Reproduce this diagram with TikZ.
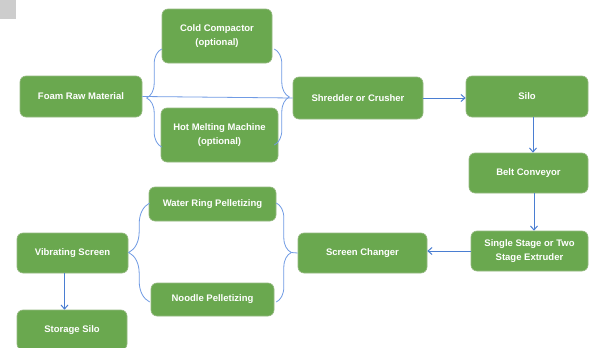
\documentclass[tikz,border=0pt]{standalone}
\usepackage{fontspec}
\setmainfont{Liberation Sans}
\usetikzlibrary{arrows.meta,positioning,calc,decorations.pathreplacing}
\definecolor{boxgreen}{RGB}{106,168,79}
\definecolor{boxedge}{RGB}{150,185,130}
\definecolor{flowblue}{RGB}{74,126,210}
\definecolor{bracecol}{RGB}{112,155,228}
\definecolor{cornergray}{RGB}{205,205,205}

\begin{document}
\begin{tikzpicture}[x=1pt, y=-1pt,
    procbox/.style={draw=boxedge, line width=0.6pt, fill=boxgreen, rounded corners=6pt,
      text=white, font=\bfseries\fontsize{9.5}{14}\selectfont, align=center, inner sep=2pt},
    flow/.style={flowblue, line width=1pt, -{Straight Barb[length=4pt,width=7pt]}},
    curly/.style={bracecol, line width=0.8pt, decorate, decoration={brace, amplitude=#1}}]
    % canvas, same size as the screenshot
    \useasboundingbox (0,0) rectangle (590,348);
    \fill[white] (0,0) rectangle (590,348);
    \fill[cornergray] (0,0) rectangle (16,19);
    % first row: raw material, optional pre-treatment, shredder, silo
    \node[procbox, minimum width=122pt, minimum height=41pt] (foam) at (81,96.5) {Foam Raw Material};
    \node[procbox, minimum width=110pt, minimum height=54pt] (cold) at (217,36) {Cold Compactor\\(optional)};
    \node[procbox, minimum width=117pt, minimum height=54pt] (hot) at (219.5,135) {Hot Melting Machine\\(optional)};
    \node[procbox, minimum width=130pt, minimum height=42pt] (shred) at (358,98) {Shredder or Crusher};
    \node[procbox, minimum width=122pt, minimum height=41pt] (silo) at (527,96.5) {Silo};
    % right column
    \node[procbox, minimum width=119pt, minimum height=40pt] (belt) at (528.5,173) {Belt Conveyor};
    \node[procbox, minimum width=117pt, minimum height=40pt] (extr) at (529.5,251) {Single Stage or Two\\Stage Extruder};
    % bottom row, running back to the left
    \node[procbox, minimum width=129pt, minimum height=40pt] (chg) at (362.5,253) {Screen Changer};
    \node[procbox, minimum width=127pt, minimum height=34pt] (water) at (212.5,204) {Water Ring Pelletizing};
    \node[procbox, minimum width=123pt, minimum height=33pt] (noodle) at (212.5,299.5) {Noodle Pelletizing};
    \node[procbox, minimum width=111pt, minimum height=40pt] (vib) at (72.5,253) {Vibrating Screen};
    \node[procbox, minimum width=110pt, minimum height=40pt] (stor) at (72,330) {Storage Silo};
    % brackets round the two optional machines
    \coordinate (tl1) at ($(cold.west)+(0,13)$);
    \coordinate (tl2) at ($(tl1 |- hot.west)+(0,12)$);
    \coordinate (tr1) at ($(cold.east)+(2,13)$);
    \coordinate (tr2) at ($(tr1 |- hot.east)+(0,10)$);
    \draw[curly=15pt] (tl2) -- (tl1);
    \draw[curly=15pt] (tr1) -- (tr2);
    \draw[bracecol, line width=0.8pt] (foam.east) -- (shred.west);
    % main flow
    \draw[flow] (shred.east) -- (silo.west |- shred.east);
    \draw[flow] ([xshift=6pt]silo.south) -- ([xshift=6pt]silo.south |- belt.north);
    \draw[flow] ([xshift=5.5pt]belt.south) -- ([xshift=5.5pt]belt.south |- extr.north);
    \draw[flow] (extr.west) -- (chg.east |- extr.west);
    % brackets round the two pelletizing options
    \coordinate (br1) at ($(water.east)+(0,-1)$);
    \coordinate (br2) at ($(br1 |- noodle.east)+(0,2.5)$);
    \coordinate (bl1) at ($(water.west)+(1,-1)$);
    \coordinate (bl2) at ($(bl1 |- noodle.west)+(0,2.5)$);
    \draw[curly=15pt] (br1) -- (br2);
    \draw[curly=21pt] (bl2) -- (bl1);
    \draw[bracecol, line width=0.8pt] ($(br1)!0.5!(br2)+(15,0)$) -- (chg.west);
    \draw[flow] ([xshift=-8pt]vib.south) -- ([xshift=-8pt]vib.south |- stor.north);
\end{tikzpicture}
\end{document}
